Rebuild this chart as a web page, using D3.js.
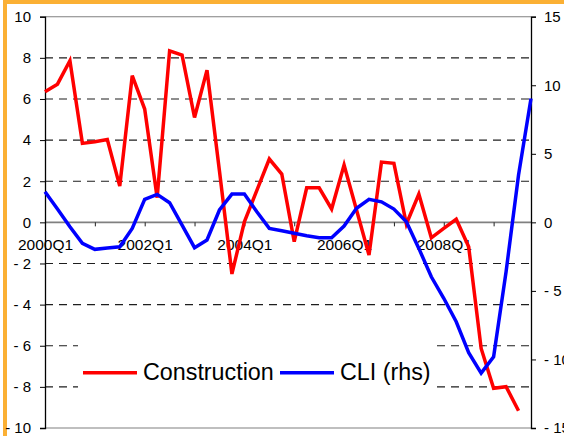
<!DOCTYPE html>
<html>
<head>
<meta charset="utf-8">
<script src="https://cdn.jsdelivr.net/npm/d3@7"></script>
<style>
  html, body { margin: 0; padding: 0; background: #fff; }
  svg { display: block; font-family: "Liberation Sans", Arial, sans-serif; }
</style>
</head>
<body>
<div id="graph"></div>
<script>
const w = 564;
const h = 436;
const margin = { left: 45, right: 33, top: 16.7, bottom: 8 };

// quarters 2000Q1 .. 2009Q4
const years = [2000, 2001, 2002, 2003, 2004, 2005, 2006, 2007, 2008, 2009];
const quarters = years.flatMap((y) => [1, 2, 3, 4].map((q) => `${y}Q${q}`));
const labelQuarters = ["2000Q1", "2002Q1", "2004Q1", "2006Q1", "2008Q1"];
const leftTicks = [-10, -8, -6, -4, -2, 0, 2, 4, 6, 8, 10];
const rightTicks = [-15, -10, -5, 0, 5, 10, 15];

const construction = [6.35, 6.72, 7.86, 3.84, 3.92, 4.03, 1.76, 7.13, 5.51, 1.2, 8.34, 8.13, 5.1, 7.4, 2.5, -2.51, 0.03, 1.55, 3.08, 2.35, -0.94, 1.68, 1.68, 0.65, 2.79, 0.6, -1.59, 2.93, 2.87, -0.08, 1.38, -0.75, -0.29, 0.15, -1.19, -6.13, -8.07, -7.99, -9.16];
const cli = [2.23, 0.97, -0.32, -1.53, -1.97, -1.87, -1.78, -0.44, 1.68, 2.04, 1.43, -0.2, -1.85, -1.29, 0.9, 2.06, 2.06, 0.77, -0.44, -0.61, -0.8, -0.98, -1.12, -1.12, -0.27, 1.02, 1.68, 1.5, 0.97, 0.05, -1.9, -3.97, -5.54, -7.25, -9.51, -11.0, -9.8, -3.6, 3.45, 9.04];

const colors = { construction: "#ff0000", cli: "#0000ff", grid: "#1e1e1e", frame: "#808080", border: "#fbb034" };
const fmt = (v) => (v < 0 ? "- " + -v : "" + v);

const svg = d3.select("#graph").append("svg").attr("width", w).attr("height", h);

svg.append("rect").attr("width", w).attr("height", h).attr("fill", "#fff");
svg
  .append("rect")
  .attr("x", 5)
  .attr("y", 2)
  .attr("width", w + 20)
  .attr("height", h + 20)
  .attr("fill", "none")
  .attr("stroke", colors.border)
  .attr("stroke-width", 4);

const x = d3.scalePoint().domain(quarters).range([margin.left, w - margin.right]);
const yL = d3.scaleLinear().domain([-10, 10]).range([h - margin.bottom, margin.top]);
const yR = d3.scaleLinear().domain([-15, 15]).range([h - margin.bottom, margin.top]);

// gridlines
svg
  .append("g")
  .selectAll("line")
  .data(leftTicks)
  .enter()
  .append("line")
  .attr("x1", margin.left)
  .attr("x2", w - margin.right)
  .attr("y1", (d) => yL(d))
  .attr("y2", (d) => yL(d))
  .attr("stroke", (d) => (Math.abs(d) === 10 || d === 0 ? colors.frame : colors.grid))
  .attr("stroke-width", (d) => (d === 0 ? 1.6 : 1.1))
  .attr("stroke-dasharray", (d) => (Math.abs(d) === 10 || d === 0 ? null : "8,6"));

// x axis on zero line
const xAxis = svg
  .append("g")
  .attr("transform", `translate(0, ${yL(0)})`)
  .call(
    d3
      .axisBottom(x)
      .tickValues(quarters.filter((q, i) => i % 4 === 0))
      .tickSize(4)
      .tickPadding(13)
      .tickFormat((q) => (labelQuarters.includes(q) ? q : ""))
  );
xAxis.select(".domain").remove();
xAxis.selectAll("line").attr("stroke", "#222");
xAxis.selectAll("text").attr("font-size", 15.5).attr("fill", "#000").attr("font-family", null);

const leftAxis = svg
  .append("g")
  .attr("transform", `translate(${margin.left}, 0)`)
  .call(d3.axisLeft(yL).tickValues(leftTicks).tickSize(5).tickPadding(9).tickFormat(fmt));
const rightAxis = svg
  .append("g")
  .attr("transform", `translate(${w - margin.right}, 0)`)
  .call(d3.axisRight(yR).tickValues(rightTicks).tickSize(5).tickPadding(8).tickFormat(fmt));

[leftAxis, rightAxis].forEach((a) => {
  a.select(".domain").attr("stroke", "#000").attr("stroke-width", 1.3);
  a.selectAll("line").attr("stroke", "#000");
  a.selectAll("text").attr("font-size", 15).attr("fill", "#000").attr("font-family", null);
});

// series
const lineL = d3
  .line()
  .x((d, i) => x(quarters[i]))
  .y((d) => yL(d));
const lineR = d3
  .line()
  .x((d, i) => x(quarters[i]))
  .y((d) => yR(d));

svg
  .append("path")
  .attr("d", lineL(construction))
  .attr("fill", "none")
  .attr("stroke", colors.construction)
  .attr("stroke-width", 3.5)
  .attr("stroke-linejoin", "miter");
svg
  .append("path")
  .attr("d", lineR(cli))
  .attr("fill", "none")
  .attr("stroke", colors.cli)
  .attr("stroke-width", 3.5)
  .attr("stroke-linejoin", "miter");

// legend
const legend = svg.append("g").attr("id", "legend");
legend.append("rect").attr("x", 78).attr("y", 332).attr("width", 354).attr("height", 80).attr("fill", "#fff");
const items = [
  { name: "Construction", color: colors.construction, x: 83 },
  { name: "CLI (rhs)", color: colors.cli, x: 280 },
];
const labels = legend
  .selectAll("g")
  .data(items)
  .enter()
  .append("g")
  .attr("transform", (d) => `translate(${d.x}, 372.7)`);
labels.append("line").attr("x2", 54).attr("stroke", (d) => d.color).attr("stroke-width", 3.5);
labels
  .append("text")
  .text((d) => d.name)
  .attr("x", 60)
  .attr("y", 7.5)
  .attr("font-size", 23.3)
  .attr("fill", "#000");
</script>
</body>
</html>
